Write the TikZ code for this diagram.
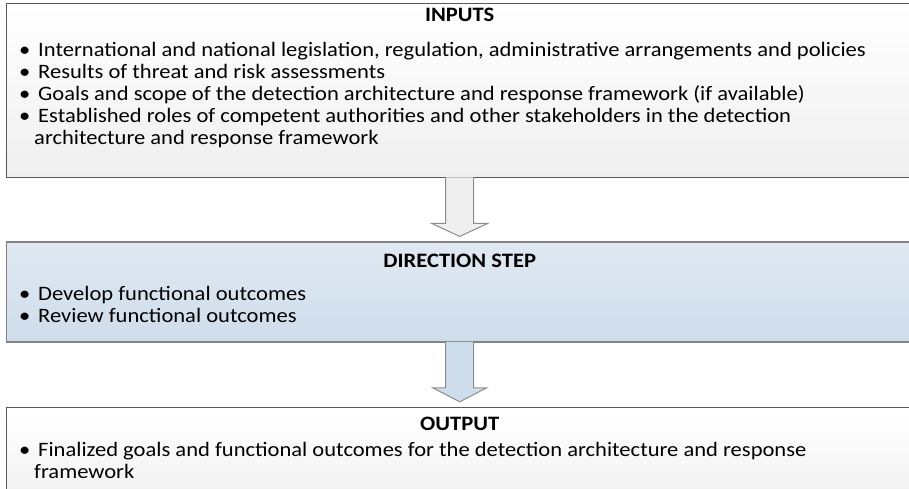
\documentclass[tikz,border=0pt]{standalone}
\usepackage{fontspec}
\setmainfont[FakeStretch=1.1]{Carlito}
\usetikzlibrary{positioning,calc}

\definecolor{framegray}{HTML}{595959}
\definecolor{arrowgray}{HTML}{8C8C8C}
\definecolor{paletop}{HTML}{FFFFFF}
\definecolor{palebottom}{HTML}{EFEFEF}
\definecolor{bluetop}{HTML}{E0E9F2}
\definecolor{bluebottom}{HTML}{CEDDEB}

\newcommand{\bitem}{\makebox[19pt][l]{\textbullet}}
\newcommand{\bcont}{\hspace*{15pt}}

\begin{document}
\begin{tikzpicture}[
    x=1pt, y=-1pt,
    node distance=62pt,
    stepbox/.style={rectangle, draw=framegray, line width=1.4pt, inner sep=0pt,
                    minimum width=906pt, anchor=north west},
    graybox/.style={stepbox, top color=paletop, bottom color=palebottom},
    bluebox/.style={stepbox, draw=framegray!75, top color=bluetop, bottom color=bluebottom},
    heading/.style={anchor=base, inner sep=0pt, font=\fontsize{20.5}{22}\selectfont\bfseries},
    itemlist/.style={anchor=base west, inner sep=0pt, align=left,
                     font=\fontsize{20.5}{22}\selectfont},
    blockarrow/.style={draw=arrowgray, line width=1pt}
]
\clip (0,0) rectangle (909,488);
\useasboundingbox (0,0) rectangle (909,488);

\node[graybox, minimum height=174pt] (inputs) at (6,3) {};
\node[bluebox, minimum height=100pt, below=63pt of inputs.south west, anchor=north west] (direction) {};
\node[graybox, minimum height=110pt, below=64pt of direction.south west, anchor=north west] (output) {};

% headings
\node[heading] (inputsHead) at ([yshift=-18pt]inputs.north) {INPUTS};
\node[heading] (directionHead) at ([yshift=-26pt]direction.north) {DIRECTION STEP};
\node[heading] (outputHead) at ([yshift=-24pt]output.north) {OUTPUT};

% bullet lists (base = last line)
\node[itemlist] (inputsList) at ([xshift=13pt,yshift=-141pt]inputs.north west) {%
  \bitem International and national legislation, regulation, administrative arrangements and policies\\
  \bitem Results of threat and risk assessments\\
  \bitem Goals and scope of the detection architecture and response framework (if available)\\
  \bitem Established roles of competent authorities and other stakeholders in the detection\\
  \bcont architecture and response framework};
\node[itemlist] (directionList) at ([xshift=13pt,yshift=-81pt]direction.north west) {%
  \bitem Develop functional outcomes\\
  \bitem Review functional outcomes};
\node[itemlist] (outputList) at ([xshift=13pt,yshift=-72pt]output.north west) {%
  \bitem Finalized goals and functional outcomes for the detection architecture and response\\
  \bcont framework};

% block arrows between the steps
\filldraw[blockarrow, fill=palebottom]
  let \p1=(inputs.south), \p2=(direction.north) in
  (\x1-14pt,\y1+1pt) -- (\x1-14pt,\y2+18pt) -- (\x1-28pt,\y2+18pt) -- (\x1,\y2+5pt)
  -- (\x1+28pt,\y2+18pt) -- (\x1+14pt,\y2+18pt) -- (\x1+14pt,\y1+1pt);
\filldraw[blockarrow, fill=bluebottom]
  let \p1=(direction.south), \p2=(output.north) in
  (\x1-14pt,\y1+1pt) -- (\x1-14pt,\y2+19pt) -- (\x1-27pt,\y2+19pt) -- (\x1,\y2+5pt)
  -- (\x1+27pt,\y2+19pt) -- (\x1+14pt,\y2+19pt) -- (\x1+14pt,\y1+1pt);
\end{tikzpicture}
\end{document}
